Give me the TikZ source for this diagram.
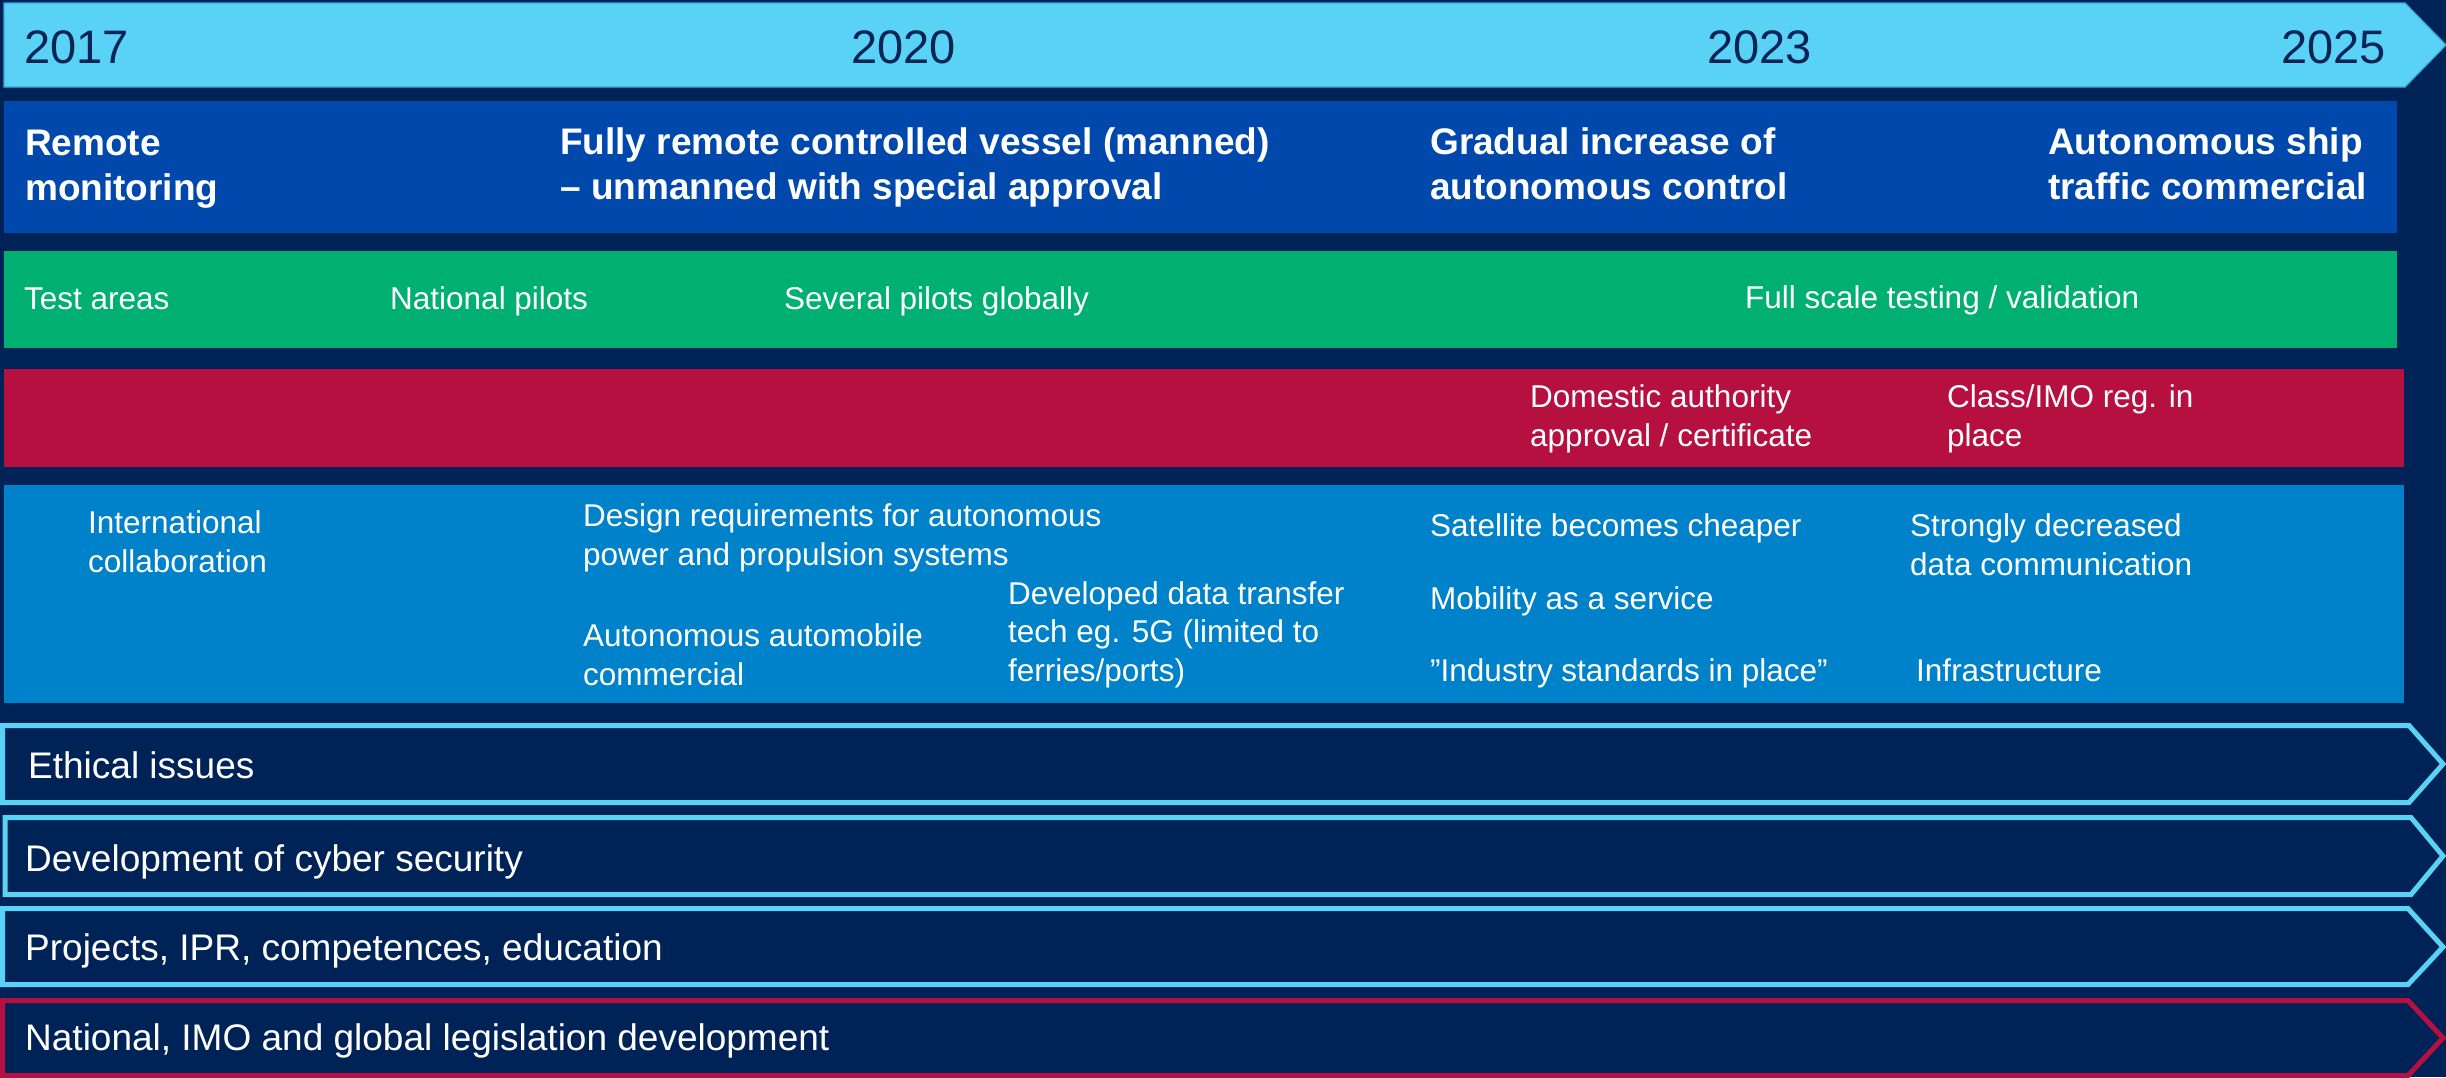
\documentclass[tikz,border=0pt]{standalone}
\usepackage{fontspec}
\setmainfont{Liberation Sans}
\definecolor{bgnavy}{RGB}{0,35,87}
\definecolor{arrowfill}{RGB}{90,210,245}
\definecolor{arrowedge}{RGB}{60,170,220}
\definecolor{yearc}{RGB}{4,36,88}
\definecolor{rowblue}{RGB}{0,72,171}
\definecolor{rowgreen}{RGB}{0,176,112}
\definecolor{rowred}{RGB}{181,16,64}
\definecolor{rowlight}{RGB}{0,130,202}
\definecolor{outlight}{RGB}{90,210,245}
\begin{document}
\begin{tikzpicture}[x=1pt,y=-1pt,
  yr/.style={font=\fontsize{47}{56}\selectfont, text=yearc, anchor=base west, inner sep=0pt},
  hd/.style={font=\bfseries\fontsize{37}{45}\selectfont, text=white, anchor=base west, inner sep=0pt, align=left},
  bd/.style={font=\fontsize{31.5}{38.3}\selectfont, text=white, anchor=base west, inner sep=0pt, align=left},
  lb/.style={font=\fontsize{37}{45}\selectfont, text=white, anchor=base west, inner sep=0pt},
  band/.style={draw=outlight, line width=5pt, fill=bgnavy, line join=miter},
  redband/.style={band, draw=rowred}]
% background
\fill[bgnavy] (0,0) rectangle (2446,1077);
\path[use as bounding box] (0,0) rectangle (2446,1077);
% top timeline arrow
\filldraw[fill=arrowfill, draw=arrowedge, line width=1.2pt]
  (4,3) -- (2405,3) -- (2446,45) -- (2405,87) -- (4,87) -- cycle;
% rows
\fill[rowblue] (4,101) rectangle (2397,233);
\fill[rowgreen] (4,251) rectangle (2397,348);
\fill[rowred] (4,369) rectangle (2404,467);
\fill[rowlight] (4,485) rectangle (2404,703);
% bottom arrows
\draw[band] (2.5,725.5) -- (2409,725.5) -- (2443,764) -- (2409,802.5) -- (2.5,802.5) -- cycle;
\draw[band] (5,817.5) -- (2411,817.5) -- (2443,856) -- (2411,894.5) -- (5,894.5) -- cycle;
\draw[band] (2.5,908.5) -- (2408,908.5) -- (2443,947) -- (2408,984.5) -- (2.5,984.5) -- cycle;
\draw[redband] (2.5,1000.5) -- (2408,1000.5) -- (2443,1038) -- (2408,1075.5) -- (2.5,1075.5) -- cycle;
% years
\node[yr] (y17) at (24,63) {2017};
\node[yr] (y20) at (851,63) {2020};
\node[yr] (y23) at (1707,63) {2023};
\node[yr] (y25) at (2281,63) {2025};
% headline row
\node[hd] (h1) at (25,200) {Remote\\monitoring};
\node[hd] (h2) at (560,199) {Fully remote controlled vessel (manned)\\– unmanned with special approval};
\node[hd] (h3) at (1430,199) {Gradual increase of\\autonomous control};
\node[hd] (h4) at (2048,199) {Autonomous ship\\traffic commercial};
% green row
\node[bd] (g1) at (24,309) {Test areas};
\node[bd] (g2) at (390,309) {National pilots};
\node[bd] (g3) at (784,309) {Several pilots globally};
\node[bd] (g4) at (1745,308) {Full scale testing / validation};
% red row
\node[bd] (r1) at (1530,446) {Domestic authority\\approval / certificate};
\node[bd] (r2) at (1947,446) {Class/IMO reg. in\\place};
% light blue row
\node[bd] (l1) at (88,572) {International\\collaboration};
\node[bd] (l2) at (583,565) {Design requirements for autonomous\\power and propulsion systems};
\node[bd] (l3) at (1008,681) {Developed data transfer\\tech eg. 5G (limited to\\ferries/ports)};
\node[bd] (l4) at (583,685) {Autonomous automobile\\commercial};
\node[bd] (l5) at (1430,536) {Satellite becomes cheaper};
\node[bd] (l6) at (1430,609) {Mobility as a service};
\node[bd] (l7) at (1430,681) {”Industry standards in place”};
\node[bd] (l8) at (1910,575) {Strongly decreased\\data communication};
\node[bd] (l9) at (1916,681) {Infrastructure};
% bottom labels
\node[lb] (b1) at (28,778) {Ethical issues};
\node[lb] (b2) at (25,871) {Development of cyber security};
\node[lb] (b3) at (25,960) {Projects, IPR, competences, education};
\node[lb] (b4) at (25,1050) {National, IMO and global legislation development};
\end{tikzpicture}
\end{document}
